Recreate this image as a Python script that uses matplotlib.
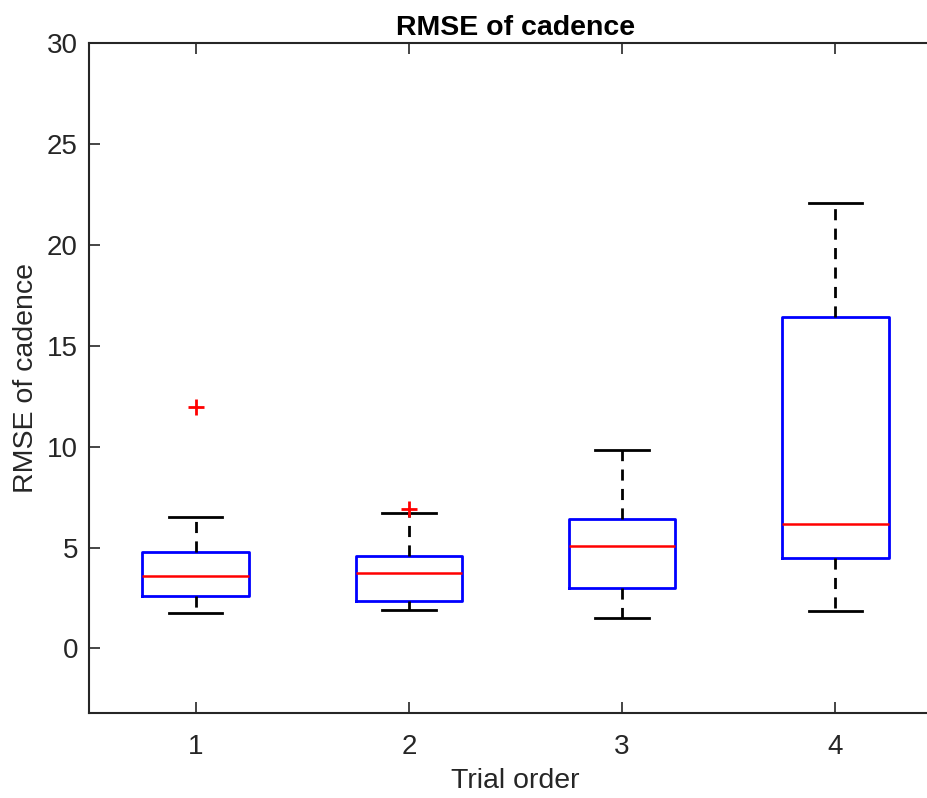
import matplotlib
matplotlib.use("Agg")
import matplotlib.pyplot as plt

plt.rcParams["font.family"] = ["Liberation Sans", "DejaVu Sans"]

# box statistics
trials = [1, 2, 3, 4]
whisker_low = [1.78, 1.88, 1.49, 1.83]
q1 = [2.58, 2.33, 2.97, 4.46]
medians = [3.57, 3.72, 5.06, 6.15]
q3 = [4.80, 4.56, 6.40, 16.41]
whisker_high = [6.50, 6.70, 9.82, 22.06]
outliers = [[11.95], [6.90], [], []]

stats = []
for lo, a, m, b, hi, fl in zip(whisker_low, q1, medians, q3, whisker_high, outliers):
    stats.append({"whislo": lo, "q1": a, "med": m, "q3": b, "whishi": hi, "fliers": fl})

fig = plt.figure(figsize=(9.28, 7.98), dpi=100)
ax = fig.add_axes([89 / 928, 1 - 713 / 798, 853 / 928, 670 / 798])

ax.bxp(
    stats,
    positions=trials,
    widths=0.5,
    capwidths=0.25,
    boxprops=dict(color="#0000ff", linewidth=2),
    medianprops=dict(color="#ff0000", linewidth=1.8),
    whiskerprops=dict(color="black", linewidth=2, linestyle=(0, (4, 3))),
    capprops=dict(color="black", linewidth=2),
    flierprops=dict(marker="+", markeredgecolor="#ff0000", markersize=12, markeredgewidth=2),
)

ax.set_xlim(0.5, 4.5)
ax.set_ylim(-3.2, 30)
ax.set_xticks(trials)
ax.set_xticklabels([str(t) for t in trials])
ax.set_yticks([0, 5, 10, 15, 20, 25, 30])
ax.tick_params(direction="in", length=8, width=1.2, labelsize=20, colors="#262626",
               top=True, right=True)
ax.tick_params(axis="x", pad=15)
ax.tick_params(axis="y", pad=8)
for sp in ax.spines.values():
    sp.set_linewidth(1.5)
    sp.set_color("#262626")

ax.set_xlabel("Trial order", fontsize=20.5, color="#262626", labelpad=6)
ax.set_ylabel("RMSE of cadence", fontsize=20.5, color="#262626", labelpad=6)
ax.set_title("RMSE of cadence", fontsize=20.5, fontweight="bold", pad=6)

fig.savefig("out.png", dpi=100)
